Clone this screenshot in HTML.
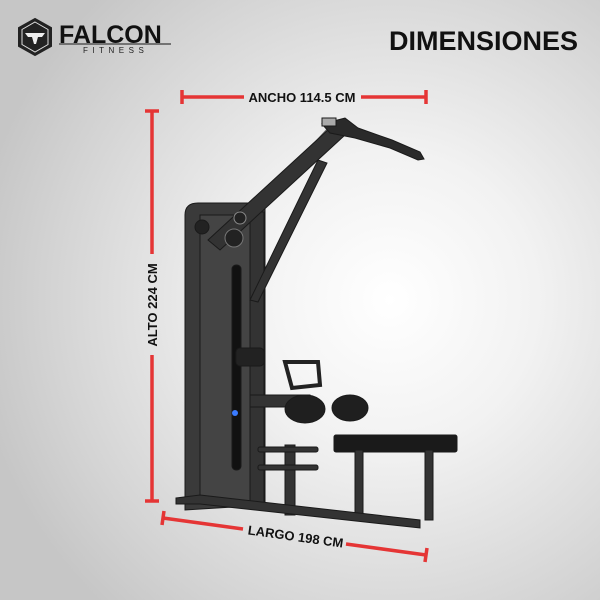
<!DOCTYPE html>
<html><head><style>
html,body{margin:0;padding:0;}
body{width:600px;height:600px;overflow:hidden;background:radial-gradient(ellipse 420px 420px at 390px 300px,#ffffff 0%,#f2f2f2 35%,#d4d4d4 80%,#c6c6c6 100%);font-family:"Liberation Sans",sans-serif;}
</style></head><body>
<svg width="600" height="600" viewBox="0 0 600 600" xmlns="http://www.w3.org/2000/svg" style="position:absolute;left:0;top:0">
<!-- logo -->
<polygon points="35,19 51,28 51,46 35,55 19,46 19,28" fill="#222" stroke="#222" stroke-width="2"/>
<polygon points="35,22 48,29.5 48,44.5 35,52 22,44.5 22,29.5" fill="none" stroke="#ddd" stroke-width="1"/>
<path d="M25,33 L45,33 L42,37 L38,37 L36,44 L34,44 L32,37 L28,37 Z" fill="#eee"/>
<text x="59" y="43" font-size="25" font-weight="bold" fill="#111" font-family="Liberation Sans,sans-serif">FALCON</text>
<line x1="59" y1="44" x2="171" y2="44" stroke="#555" stroke-width="1.5"/>
<text x="83" y="53" font-size="8" fill="#222" letter-spacing="4.5" font-family="Liberation Sans,sans-serif">FITNESS</text>
<text x="578" y="50" font-size="27" font-weight="bold" fill="#111" text-anchor="end" font-family="Liberation Sans,sans-serif">DIMENSIONES</text>
<!-- ancho -->
<g stroke="#e53535" stroke-width="3.5">
<line x1="182" y1="97" x2="244" y2="97"/><line x1="361" y1="97" x2="426" y2="97"/>
<line x1="182" y1="90" x2="182" y2="104"/><line x1="426" y1="90" x2="426" y2="104"/>
<line x1="152" y1="111" x2="152" y2="254"/><line x1="152" y1="355" x2="152" y2="501"/>
<line x1="145" y1="111" x2="159" y2="111"/><line x1="145" y1="501" x2="159" y2="501"/>
<line x1="163" y1="518" x2="243" y2="529"/><line x1="346" y1="544" x2="426" y2="555"/>
<line x1="164" y1="511" x2="162" y2="525"/><line x1="427" y1="548" x2="425" y2="562"/>
</g>
<text x="302" y="102" font-size="13" font-weight="bold" fill="#111" text-anchor="middle">ANCHO 114.5 CM</text>
<text transform="translate(157,305) rotate(-90)" font-size="13" font-weight="bold" fill="#111" text-anchor="middle">ALTO 224 CM</text>
<text transform="translate(295,541) rotate(8)" font-size="13" font-weight="bold" fill="#111" text-anchor="middle">LARGO 198 CM</text>
<!-- machine -->
<g fill="#2b2b2b" stroke="#1a1a1a" stroke-width="1">
<line x1="232" y1="232" x2="330" y2="126" stroke="#666" stroke-width="1.2"/>
<path d="M185,510 L185,215 Q185,203 198,203 L265,203 L265,505 Z" fill="#3a3a3a"/>
<rect x="200" y="215" width="50" height="288" fill="#444"/>
<rect x="232" y="265" width="9" height="205" rx="4" fill="#111"/>
<rect x="250" y="212" width="14" height="293" fill="#333"/>
<polygon points="208,240 330,128 345,135 220,250" fill="#333"/>
<polygon points="250,300 318,160 327,163 258,302" fill="#333"/>
<circle cx="240" cy="218" r="6" fill="#222" stroke="#888"/>
<circle cx="234" cy="238" r="9" fill="#222" stroke="#777"/>
<path d="M322,124 L345,118 L358,128 L392,140 L420,152 L424,159 L418,160 L390,148 L355,138 L330,133 Z" fill="#2a2a2a"/>
<rect x="322" y="118" width="14" height="8" fill="#aaa"/>
<circle cx="202" cy="227" r="7" fill="#222"/>
<rect x="236" y="348" width="28" height="18" rx="4" fill="#222"/>
<path d="M285,362 L318,362 L320,385 L292,388 Z" fill="none" stroke="#222" stroke-width="4"/>
<rect x="250" y="395" width="60" height="12" fill="#333"/>
<ellipse cx="305" cy="409" rx="20" ry="14" fill="#1f1f1f"/>
<ellipse cx="350" cy="408" rx="18" ry="13" fill="#1f1f1f"/>
<circle cx="235" cy="413" r="3" fill="#3a7bff" stroke="none"/>
<rect x="334" y="435" width="123" height="17" rx="2" fill="#1a1a1a"/>
<rect x="355" y="450" width="8" height="65" fill="#333"/>
<rect x="425" y="450" width="8" height="70" fill="#333"/>
<rect x="285" y="445" width="10" height="70" fill="#333"/>
<rect x="258" y="447" width="60" height="5" rx="2" fill="#333"/>
<rect x="258" y="465" width="60" height="5" rx="2" fill="#333"/>
<polygon points="176,498 200,495 420,520 420,528 200,504 176,504" fill="#333"/>
</g>
</svg>
</body></html>
